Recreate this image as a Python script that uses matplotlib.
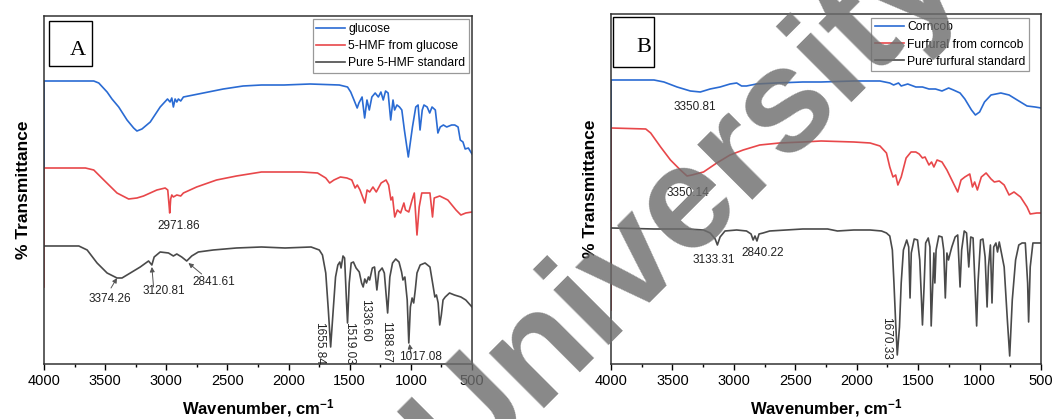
import matplotlib
matplotlib.use("Agg")
import matplotlib.pyplot as plt
from matplotlib.patches import Rectangle
from matplotlib.ticker import MultipleLocator

plt.rcParams["font.family"] = ["Liberation Sans", "DejaVu Sans"]
plt.rcParams["mathtext.fontset"] = "custom"
plt.rcParams["mathtext.rm"] = "Liberation Sans:bold"
plt.rcParams["mathtext.default"] = "rm"

# ---- panel A : glucose -> 5-HMF ----
glucose_wn = [4000, 4000, 3593, 3552, 3484, 3444, 3389, 3321, 3267, 3240, 3199, 3131, 3050, 2990,
              2969, 2955, 2942, 2928, 2914, 2901, 2882, 2860, 2697, 2534, 2372, 2222, 2037, 1824,
              1585, 1518, 1492, 1465, 1439, 1425, 1399, 1378, 1359, 1340, 1319, 1292, 1266, 1245,
              1226, 1207, 1186, 1165, 1146, 1133, 1114, 1093, 1074, 1053, 1021, 987, 960, 941, 925,
              907, 893, 867, 846, 827, 800, 779, 760, 734, 707, 667, 641, 614, 596, 574, 556, 530, 500]
glucose_t = [196, 283, 283, 281, 272, 265, 257, 244, 236, 233, 235, 242, 257, 265,
             262, 266, 257, 265, 262, 265, 263, 267, 271, 275, 278, 279, 279, 280,
             279, 277, 272, 264, 256, 261, 267, 246, 264, 254, 267, 271, 267, 272,
             264, 273, 271, 244, 264, 254, 259, 257, 254, 234, 207, 237, 257, 259, 234,
             254, 259, 257, 251, 257, 254, 231, 237, 239, 237, 239, 239, 237, 224, 222, 215, 216, 210]

hmf_glc_wn = [4000, 4000, 3661, 3593, 3511, 3403, 3308, 3240, 3186, 3077, 3009, 2988, 2978, 2972,
              2964, 2955, 2942, 2914, 2882, 2860, 2752, 2589, 2426, 2222, 2135, 1896, 1763, 1696,
              1664, 1629, 1576, 1523, 1483, 1456, 1438, 1416, 1376, 1358, 1337, 1310, 1283, 1243,
              1203, 1182, 1163, 1150, 1132, 1110, 1084, 1057, 1044, 1017, 990, 972, 950, 932, 911,
              844, 823, 809, 764, 698, 631, 591, 551, 500]
hmf_glc_t = [77, 196, 196, 194, 184, 171, 165, 166, 168, 174, 176, 174, 160, 151,
             165, 169, 167, 169, 168, 171, 177, 184, 188, 192, 192, 192, 191, 186,
             181, 184, 187, 186, 184, 176, 179, 174, 161, 174, 172, 177, 172, 181,
             184, 179, 164, 167, 147, 154, 151, 161, 154, 152, 164, 171, 129, 157, 171,
             171, 147, 166, 168, 164, 154, 149, 151, 152]

hmf_std_wn = [4000, 3715, 3647, 3566, 3484, 3403, 3362, 3294, 3213, 3145, 3118, 3099, 3050, 2982,
              2942, 2914, 2874, 2833, 2792, 2738, 2616, 2426, 2222, 2029, 1816, 1749, 1723, 1696,
              1675, 1656, 1635, 1616, 1597, 1581, 1571, 1555, 1542, 1528, 1518, 1504, 1488, 1470,
              1448, 1422, 1403, 1390, 1377, 1363, 1347, 1337, 1315, 1297, 1278, 1262, 1235, 1217,
              1190, 1172, 1150, 1124, 1097, 1076, 1065, 1049, 1030, 1017, 1004, 990, 977, 964, 950,
              924, 884, 844, 817, 804, 791, 777, 764, 751, 737, 719, 684, 644, 591, 551, 500]
hmf_std_t = [118, 118, 114, 101, 91, 86, 86, 91, 97, 103, 99, 107, 112, 111,
             108, 110, 107, 103, 108, 112, 114, 116, 117, 116, 117, 114, 109, 91,
             54, 17, 54, 87, 99, 102, 96, 108, 106, 67, 41, 81, 101, 102,
             96, 92, 81, 77, 85, 81, 87, 84, 96, 97, 74, 92, 96, 91,
             51, 87, 101, 105, 102, 92, 84, 87, 64, 21, 57, 66, 61, 74, 91,
             99, 101, 97, 77, 67, 69, 61, 39, 49, 64, 67, 71, 69, 67, 64, 57]

# ---- panel B : corncob -> furfural ----
corncob_wn = [4000, 4000, 3650, 3569, 3462, 3354, 3273, 3193, 3112, 3031, 2977, 2937, 2897, 2816,
              2655, 2439, 2290, 2024, 1811, 1731, 1700, 1660, 1638, 1585, 1519, 1465, 1412, 1359,
              1306, 1252, 1213, 1159, 1120, 1066, 1034, 1000, 960, 907, 827, 760, 694, 614, 548, 500]
corncob_t = [154, 284, 284, 282, 277, 273, 272, 275, 277, 280, 281, 278, 278, 280,
             281, 282, 282, 283, 283, 281, 279, 281, 278, 280, 277, 277, 275, 275,
             273, 276, 274, 271, 265, 254, 249, 252, 262, 269, 271, 269, 264, 258, 257, 256]

furf_cob_wn = [4000, 4000, 3717, 3677, 3596, 3516, 3435, 3381, 3341, 3247, 3139, 3031, 2924, 2789,
               2628, 2439, 2290, 2024, 1891, 1811, 1758, 1731, 1705, 1683, 1665, 1638, 1598, 1558,
               1519, 1492, 1465, 1444, 1412, 1391, 1372, 1346, 1306, 1266, 1226, 1178, 1151, 1120,
               1080, 1058, 1040, 1018, 986, 947, 907, 880, 840, 800, 760, 720, 667, 614, 588, 534, 500]
furf_cob_t = [54, 236, 235, 231, 217, 204, 194, 188, 189, 192, 201, 209, 214, 219,
              221, 222, 223, 222, 221, 218, 211, 197, 187, 189, 179, 187, 206, 212,
              212, 210, 206, 207, 199, 202, 197, 204, 202, 194, 184, 172, 184, 187,
              190, 177, 182, 174, 187, 191, 185, 182, 183, 179, 169, 172, 167, 157, 150, 151, 151]

furf_std_wn = [4000, 3650, 3381, 3247, 3193, 3152, 3134, 3112, 3072, 2977, 2897, 2860, 2843, 2828,
               2812, 2795, 2762, 2735, 2708, 2439, 2237, 2157, 2024, 1891, 1798, 1758, 1731, 1710,
               1697, 1683, 1670, 1652, 1638, 1620, 1593, 1577, 1566, 1556, 1532, 1505, 1487, 1473,
               1465, 1452, 1439, 1418, 1404, 1394, 1380, 1372, 1364, 1354, 1332, 1306, 1292, 1279,
               1266, 1253, 1239, 1226, 1199, 1178, 1159, 1146, 1125, 1106, 1088, 1072, 1053, 1040,
               1024, 1013, 992, 973, 955, 939, 928, 912, 899, 885, 867, 854, 840, 827, 800, 774,
               755, 734, 707, 681, 654, 628, 609, 601, 588, 566, 534, 500]
furf_std_t = [136, 135, 135, 134, 131, 125, 119, 127, 133, 134, 133, 130, 124, 128,
              123, 130, 131, 132, 133, 135, 135, 133, 134, 134, 133, 131, 128, 114,
              81, 41, 9, 37, 81, 114, 124, 117, 66, 111, 125, 124, 104, 64,
              39, 77, 121, 126, 117, 38, 84, 111, 81, 114, 128, 127, 114, 66,
              111, 104, 111, 117, 127, 129, 77, 114, 133, 131, 97, 127, 126, 87,
              38, 81, 124, 125, 107, 57, 97, 119, 61, 117, 121, 112, 122, 114, 97, 44,
              8, 64, 104, 119, 121, 121, 81, 42, 97, 121, 121, 121]

# peak labels: (text, wavenumber, T, rotation)
labels_a = [("2971.86", 2900, 138, 0), ("3374.26", 3463, 65, 0), ("3120.81", 3018, 73, 0),
            ("2841.61", 2610, 82, 0), ("1655.84", 1749, 21, 270), ("1519.03", 1504, 21, 270),
            ("1336.60", 1377, 44, 270), ("1188.67", 1203, 22, 270), ("1017.08", 924, 7, 0)]
# arrows: (tail wn, tail T, head wn, head T)
arrows_a = [(3452, 76, 3403, 86), (3104, 77, 3118, 97), (2711, 90, 2819, 101), (1000, 11, 1012, 20)]
labels_b = [("3350.81", 3314, 257, 0), ("3350.14", 3376, 171, 0), ("3133.31", 3166, 104, 0),
            ("2840.22", 2762, 111, 0), ("1670.33", 1758, 26, 270)]

blue = "#2a6bd3"
red = "#e8474a"
grey = "#4a4a4a"


def style_axes(ax, ytop, letter, box, letter_xy, leg_anchor):
    ax.set_xlim(4000, 500)
    ax.set_ylim(0, ytop)
    ax.set_yticks([])
    ax.xaxis.set_major_locator(MultipleLocator(500))
    ax.xaxis.set_minor_locator(MultipleLocator(250))
    ax.tick_params(axis="x", which="major", direction="out", length=4, width=1, labelsize=10.5)
    ax.tick_params(axis="x", which="minor", direction="out", length=2.5, width=1)
    for s in ax.spines.values():
        s.set_linewidth(1.1)
        s.set_color("#333333")
    ax.set_xlabel("Wavenumber, cm$^{-1}$", fontsize=12, fontweight="bold", labelpad=6)
    ax.set_ylabel("% Transmittance", fontsize=12.5, fontweight="bold", labelpad=9)
    ax.add_patch(Rectangle((box[0], box[1]), box[2], box[3], transform=ax.transAxes,
                           fill=False, edgecolor="black", linewidth=1.0, zorder=5))
    ax.text(letter_xy[0], letter_xy[1], letter, transform=ax.transAxes, fontsize=16,
            family="Liberation Serif", ha="center", va="center", zorder=6)
    leg = ax.legend(loc="upper right", bbox_to_anchor=leg_anchor, borderaxespad=0,
                    fontsize=8.7, fancybox=False, edgecolor="#999999", framealpha=1,
                    handlelength=2.4, handletextpad=0.25, labelspacing=0.42, borderpad=0.3)
    leg.get_frame().set_linewidth(0.9)


def put_labels(ax, labels, arrows=()):
    for txt, w, t, rot in labels:
        ax.text(w, t, txt, fontsize=8.5, ha="center", va="center", rotation=rot,
                color="#222222", zorder=4)
    for w0, t0, w1, t1 in arrows:
        ax.annotate("", xy=(w1, t1), xytext=(w0, t0),
                    arrowprops=dict(arrowstyle="-|>", color="#555555", lw=0.7,
                                    mutation_scale=7, shrinkA=0, shrinkB=0))


fig = plt.figure(figsize=(10.6, 4.19), dpi=100)
ax_a = fig.add_axes([0.0415, 0.1313, 0.4038, 0.8305])
ax_b = fig.add_axes([0.5764, 0.1313, 0.4057, 0.8353])

ax_a.plot(glucose_wn, glucose_t, color=blue, lw=1.2, label="glucose")
ax_a.plot(hmf_glc_wn, hmf_glc_t, color=red, lw=1.2, label="5-HMF from glucose")
ax_a.plot(hmf_std_wn, hmf_std_t, color=grey, lw=1.2, label="Pure 5-HMF standard")
style_axes(ax_a, 348, "A", (0.012, 0.856, 0.1, 0.13), (0.079, 0.902), (0.993, 0.991))
put_labels(ax_a, labels_a, arrows_a)

ax_b.plot(corncob_wn, corncob_t, color=blue, lw=1.2, label="Corncob")
ax_b.plot(furf_cob_wn, furf_cob_t, color=red, lw=1.2, label="Furfural from corncob")
ax_b.plot(furf_std_wn, furf_std_t, color=grey, lw=1.2, label="Pure furfural standard")
style_axes(ax_b, 350, "B", (0.005, 0.849, 0.095, 0.142), (0.076, 0.903), (0.972, 0.989))
put_labels(ax_b, labels_b)

# watermark over the figure
fig.text(0.646, 0.511, "University", rotation=45, fontsize=106, fontweight="bold",
         color="#6e6e6e", alpha=0.82, ha="center", va="center", zorder=20)

fig.savefig("out.png", dpi=100)
